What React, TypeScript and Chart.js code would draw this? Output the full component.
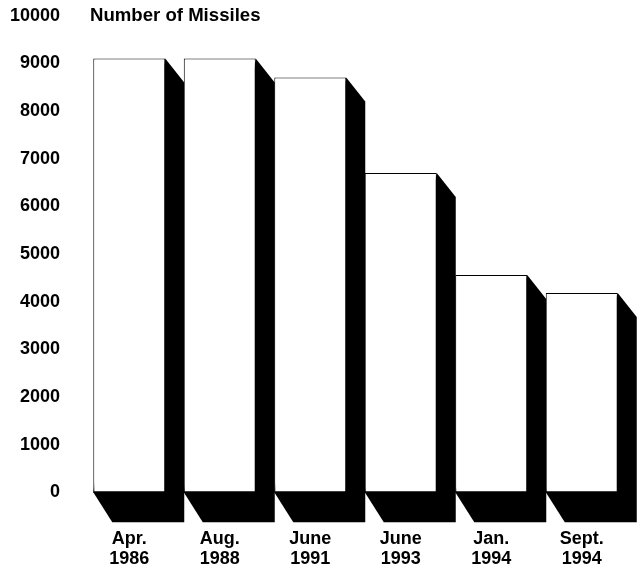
import React, { useEffect, useRef } from 'react';
import { Chart, registerables } from 'chart.js';

Chart.register(...registerables);

const categories: string[][] = [
  ['Apr.', '1986'],
  ['Aug.', '1988'],
  ['June', '1991'],
  ['June', '1993'],
  ['Jan.', '1994'],
  ['Sept.', '1994'],
];
const missiles: number[] = [9100, 9100, 8700, 6700, 4560, 4180];
const yTicks: number[] = [0, 1000, 2000, 3000, 4000, 5000, 6000, 7000, 8000, 9000, 10000];
const chartTitle = 'Number of Missiles';

const FONT_FAMILY = '"Liberation Sans", Arial, Helvetica, sans-serif';

const extrudePlugin = {
  id: 'extrude',
  beforeDatasetsDraw(chart: any) {
    const ctx = chart.ctx;
    const meta = chart.getDatasetMeta(0);
    const dx = 19;
    const dyTop = 24;
    const dyBottom = 30;
    ctx.save();
    ctx.fillStyle = '#000';
    meta.data.forEach((bar: any) => {
      const { x, y, base, width } = bar.getProps(['x', 'y', 'base', 'width'], true);
      const L = x - width / 2;
      const R = x + width / 2;
      ctx.beginPath();
      ctx.moveTo(R, y);
      ctx.lineTo(R + dx, y + dyTop);
      ctx.lineTo(R + dx, base + dyBottom);
      ctx.lineTo(L + dx, base + dyBottom);
      ctx.lineTo(L, base);
      ctx.closePath();
      ctx.fill();
    });
    ctx.restore();
  },
};

const titlePlugin = {
  id: 'cornerTitle',
  afterDraw(chart: any) {
    const ctx = chart.ctx;
    const yScale = chart.scales.y;
    ctx.save();
    ctx.font = `bold 18.6px ${FONT_FAMILY}`;
    ctx.fillStyle = '#000';
    ctx.textAlign = 'left';
    ctx.textBaseline = 'middle';
    ctx.fillText(chartTitle, chart.chartArea.left + 6, yScale.getPixelForValue(yTicks[yTicks.length - 1]));
    ctx.restore();
  },
};

export default function App() {
  const canvasRef = useRef<HTMLCanvasElement | null>(null);

  useEffect(() => {
    const canvas = canvasRef.current;
    if (!canvas) return;
    const chart = new Chart(canvas, {
      type: 'bar',
      data: {
        labels: categories,
        datasets: [
          {
            data: missiles,
            backgroundColor: '#ffffff',
            borderColor: '#000000',
            borderWidth: 1,
            borderSkipped: false,
            barPercentage: 0.795,
            categoryPercentage: 1,
          },
        ],
      },
      options: {
        responsive: false,
        animation: false,
        events: [],
        layout: { padding: { left: 10, right: 13, top: 15.6, bottom: 0 } },
        plugins: {
          legend: { display: false },
          tooltip: { enabled: false },
          title: { display: false },
        },
        scales: {
          x: {
            grid: { display: false, drawTicks: false },
            border: { display: false },
            afterFit: (scale: any) => {
              scale.height = 78.7;
              scale.paddingLeft = 0;
              scale.paddingRight = 0;
            },
            ticks: {
              color: '#000',
              font: { family: FONT_FAMILY, size: 18, weight: 'bold', lineHeight: 1.1 },
              padding: 37,
              maxRotation: 0,
              autoSkip: false,
            },
          },
          y: {
            min: 0,
            max: 10000,
            grid: { display: false, drawTicks: false },
            border: { display: false },
            afterBuildTicks: (axis: any) => {
              axis.ticks = yTicks.map((v) => ({ value: v }));
            },
            afterFit: (scale: any) => {
              scale.width = 74;
              scale.paddingTop = 0;
              scale.paddingBottom = 0;
            },
            ticks: {
              color: '#000',
              font: { family: FONT_FAMILY, size: 18, weight: 'bold' },
              padding: 24,
              callback: (v: any) => String(v),
            },
          },
        },
      },
      plugins: [extrudePlugin, titlePlugin],
    });
    return () => chart.destroy();
  }, []);

  return (
    <div style={{ position: 'absolute', left: 0, top: 0, width: 640, height: 571, background: '#fff' }}>
      <canvas ref={canvasRef} width={640} height={571} style={{ display: 'block' }} />
    </div>
  );
}
